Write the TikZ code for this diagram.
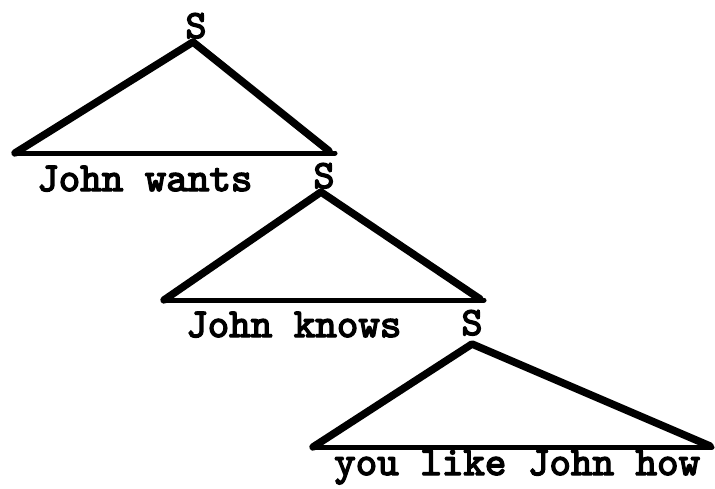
\documentclass[tikz,border=0pt]{standalone}
\usepackage{fontspec}
\newfontfamily\tw{lmmono10-regular.otf}[FakeBold=3.5]
\begin{document}
\begin{tikzpicture}[x=1pt,y=-1pt,
  words/.style={font=\tw\fontsize{41}{41}\selectfont, inner sep=0pt, anchor=base west},
  cat/.style={font=\tw\fontsize{40}{40}\selectfont, inner sep=0pt, anchor=base},
  side/.style={line width=7.5pt, line cap=round, line join=round},
  basel/.style={line width=5pt, line cap=round}]
\useasboundingbox[fill=white] (0,0) rectangle (715,488);
% categories
\node[cat] (S1) at (196,38) {S};
\node[cat] (S2) at (324,188) {S};
\node[cat] (S3) at (472,335) {S};
% apexes and base corners
\coordinate (a1) at (193,42);
\coordinate (l1) at (15,153);
\coordinate (r1) at (335,153);
\coordinate (e1) at (329,151);
\coordinate (a2) at (321,192);
\coordinate (l2) at (164,300);
\coordinate (r2) at (484,300);
\coordinate (e2) at (480,299);
\coordinate (a3) at (472,344);
\coordinate (l3) at (313,447);
\coordinate (r3) at (712,447);
\coordinate (e3) at (710,446);
% triangles
\draw[side] (l1) -- (a1) -- (e1);
\draw[basel] (l1) -- (r1);
\draw[side] (l2) -- (a2) -- (e2);
\draw[basel] (l2) -- (r2);
\draw[side] (l3) -- (a3) -- (e3);
\draw[basel] (l3) -- (r3);
% terminal strings
\node[words] (w1) at (37,191) {John wants};
\node[words] (w2) at (186,337) {John knows};
\node[words] (w3) at (334,475) {you like John how};
\end{tikzpicture}
\end{document}
